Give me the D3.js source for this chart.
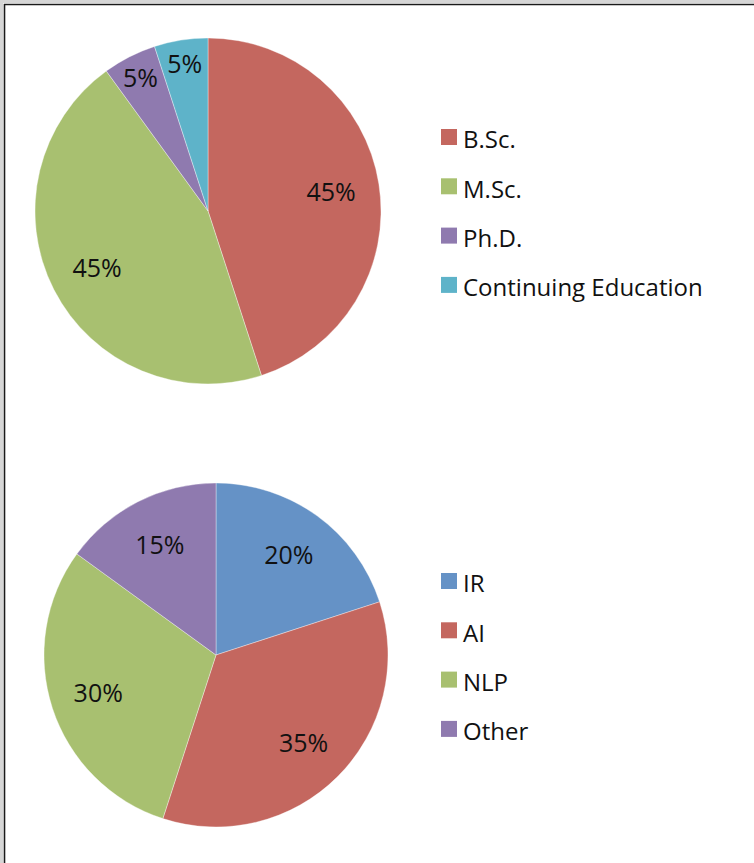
<!DOCTYPE html>
<meta charset="utf-8">
<title>Degree and topic pies</title>
<style>
body { margin: 0; background: #fff; }
text { font-family: "Open Sans", sans-serif; fill: #111; }
.lbl { font-size: 25px; text-anchor: middle; }
.leg { font-size: 24px; }
</style>
<svg width="754" height="863"></svg>
<script src="https://d3js.org/d3.v7.min.js"></script>
<script>

// chart 1: degree
var degreeNames = ["B.Sc.", "M.Sc.", "Ph.D.", "Continuing Education"];
var degreeValues = [45, 45, 5, 5];
var degreeColors = ["#c4675f", "#a8c070", "#8f7aaf", "#5eb3c9"];

// chart 2: topic
var topicNames = ["IR", "AI", "NLP", "Other"];
var topicValues = [20, 35, 30, 15];
var topicColors = ["#6592c6", "#c4675f", "#a8c070", "#8f7aaf"];

var svg = d3.select("svg");

// frame (only left and top edges are visible)
svg.append("path").attr("d", "M1.5,863V1.5H754").attr("fill", "none").attr("stroke", "#d6d6d6").attr("stroke-width", 3);
svg.append("path").attr("d", "M4.5,863V4.5H754").attr("fill", "none").attr("stroke", "#1a1a1a").attr("stroke-width", 1.6);

var drawPie = function(names, values, colors, cx, cy, r, legendTop) {
  var g = svg.append("g").attr("transform", "translate(" + cx + "," + cy + ")");
  var pie = d3.pie().sort(null).value(function(d) { return d; });
  var arcs = pie(values);
  var total = d3.sum(values);
  var arc = d3.arc().innerRadius(0).outerRadius(r);

  g.selectAll("path")
    .data(arcs)
    .enter().append("path")
      .attr("d", arc)
      .attr("fill", function(d, i) { return colors[i]; })
      .attr("stroke", "rgba(255,255,255,0.45)")
      .attr("stroke-width", 0.8);

  // small slices get their label pushed further out
  g.selectAll(".lbl")
    .data(arcs)
    .enter().append("text")
      .attr("class", "lbl")
      .attr("transform", function(d) {
        var f = d.value / total < 0.1 ? 0.86 : 0.72;
        var c = d3.arc().innerRadius(r * f).outerRadius(r * f).centroid(d);
        return "translate(" + c[0] + "," + c[1] + ")";
      })
      .attr("dy", "0.36em")
      .text(function(d) { return Math.round(d.value / total * 100) + "%"; });

  var leg = svg.append("g").attr("transform", "translate(441," + legendTop + ")");
  var row = leg.selectAll("g")
    .data(names)
    .enter().append("g")
      .attr("transform", function(d, i) { return "translate(0," + (i * 49.3) + ")"; });
  row.append("rect")
    .attr("y", -8).attr("width", 16).attr("height", 16)
    .attr("fill", function(d, i) { return colors[i]; });
  row.append("text")
    .attr("class", "leg")
    .attr("x", 22).attr("y", 11.3)
    .text(function(d) { return d; });
};

drawPie(degreeNames, degreeValues, degreeColors, 208, 211, 173, 137);
drawPie(topicNames, topicValues, topicColors, 216, 655, 172, 581);

</script>
